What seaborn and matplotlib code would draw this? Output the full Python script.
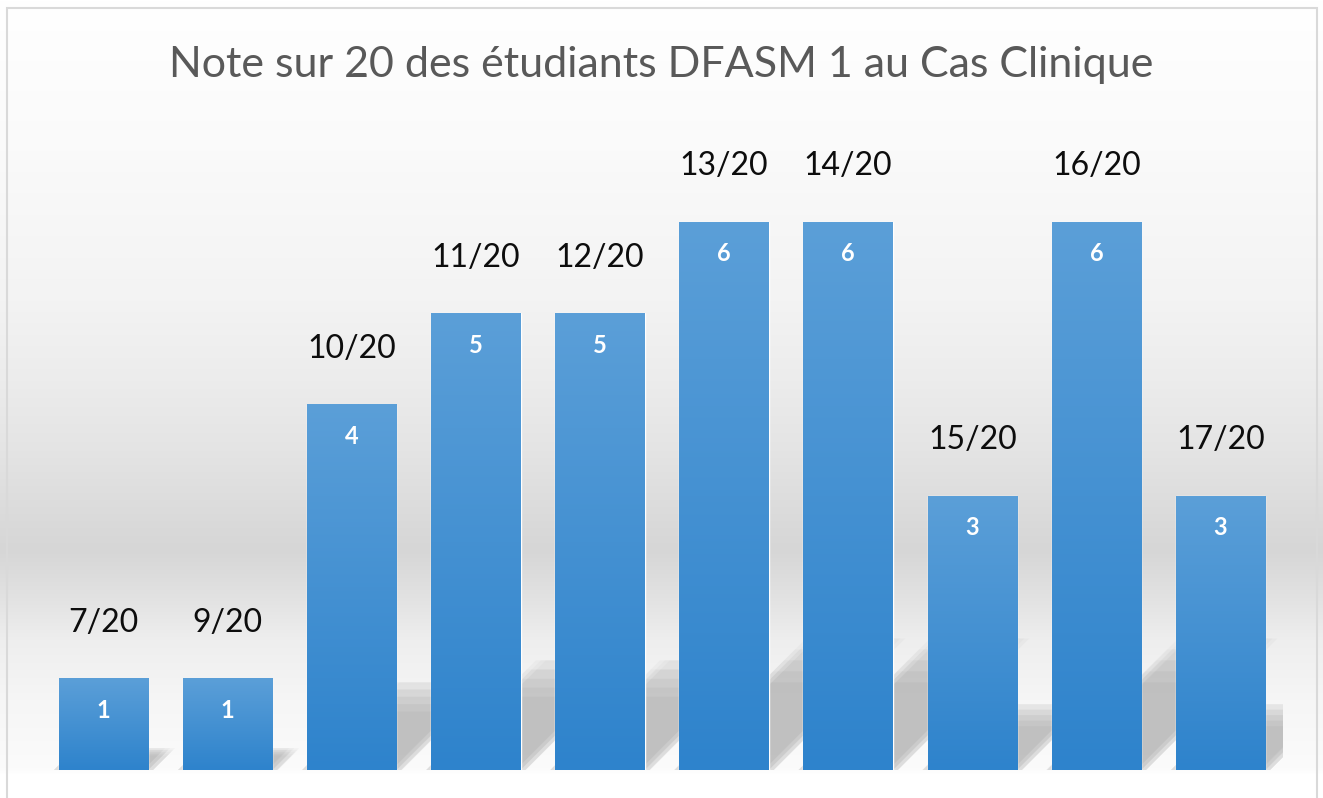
import numpy as np
import seaborn as sns
import matplotlib.pyplot as plt
from matplotlib.patches import Polygon, Rectangle
from matplotlib.colors import LinearSegmentedColormap

# données
notes = ['7/20', '9/20', '10/20', '11/20', '12/20', '13/20', '14/20', '15/20', '16/20', '17/20']
effectifs = [1, 1, 4, 5, 5, 6, 6, 3, 6, 3]
titre = 'Note sur 20 des étudiants DFASM 1 au Cas Clinique'

sns.set_theme(style='white')
plt.rcParams['font.family'] = ['Lato', 'DejaVu Sans']

W, H = 1323, 798
fig = plt.figure(figsize=(W / 100, H / 100), dpi=100)
fig.patch.set_facecolor('white')

# fond en dégradé gris (style Excel)
bg = fig.add_axes([0, 0, 1, 1], zorder=-10)
stops_y = [0, 150, 300, 380, 450, 520, 550, 590, 640, 700, 768, 774, 798]
stops_g = [255, 250, 243, 236, 228, 218, 214, 224, 238, 246, 251, 255, 255]
grad = np.interp(np.arange(H), stops_y, stops_g) / 255
rgb = np.repeat(np.repeat(grad[:, None, None], 4, axis=1), 3, axis=2)
bg.imshow(rgb, aspect='auto', extent=[0, 1, 0, 1], interpolation='nearest')
bg.set_xlim(0, 1)
bg.set_ylim(0, 1)
bg.axis('off')

# cadre du graphique
fig.patches.append(Rectangle((7 / W, -0.01), (1317 - 7) / W, 1 - 8 / H + 0.01,
                             transform=fig.transFigure, fill=False,
                             edgecolor='#d9d9d9', linewidth=1.5))

ax = fig.add_axes([41.4 / W, 28 / H, 1241.2 / W, 639.3 / H])
ax.patch.set_alpha(0)
sns.barplot(x=notes, y=effectifs, color='#5b9bd5', width=0.72, saturation=1,
            ax=ax, zorder=3)
ax.set_xlim(-0.5, len(notes) - 0.5)
ax.set_ylim(0, 7)
ax.axis('off')
barres = list(ax.patches[:len(notes)])

# ombres portées en perspective, adoucies par superposition
p0 = ax.transData.transform((0, 0))
p1 = ax.transData.transform((1, 1))
ratio = (p1[1] - p0[1]) / (p1[0] - p0[0])
for k in np.linspace(0.16, 0.24, 5):
    for sx in (-0.04, 0.0, 0.04):
        for bar in barres:
            x0, w, h = bar.get_x(), bar.get_width(), bar.get_height()
            dx = k * h * ratio
            ax.add_patch(Polygon([(x0 + sx, 0), (x0 + w + sx, 0),
                                  (x0 + w + dx + sx, k * h),
                                  (x0 + dx + sx, k * h)], closed=True,
                                 facecolor='#b4b4b4', edgecolor='none',
                                 alpha=0.09, zorder=1))

# dégradé bleu dans les barres
cmap = LinearSegmentedColormap.from_list('barre', ['#2e83cc', '#5b9fd8'])
for bar in barres:
    x0, w, h = bar.get_x(), bar.get_width(), bar.get_height()
    ax.imshow(np.linspace(0, 1, 200)[:, None], cmap=cmap, origin='lower',
              extent=[x0, x0 + w, 0, h], aspect='auto', zorder=4)
ax.set_xlim(-0.5, len(notes) - 0.5)
ax.set_ylim(0, 7)

for i, (note, n) in enumerate(zip(notes, effectifs)):
    ax.annotate(note, (i, n), xytext=(0, 40), textcoords='offset points',
                ha='center', va='center', fontsize=23, color='#0d0d0d',
                zorder=6)
    ax.annotate(str(n), (i, n), xytext=(0, -23), textcoords='offset points',
                ha='center', va='center', fontsize=17, fontweight='bold',
                color='white', zorder=6)

fig.text(0.5, 1 - 65 / H, titre, ha='center', va='center', fontsize=31,
         color='#595959')

fig.savefig('out.png', dpi=100)
